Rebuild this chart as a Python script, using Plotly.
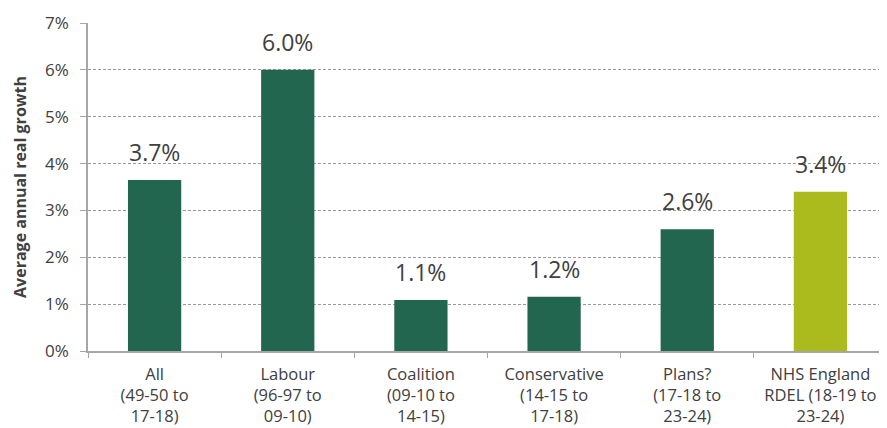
import plotly.graph_objects as go

categories = ["All<br>(49-50 to<br>17-18)", "Labour<br>(96-97 to<br>09-10)", "Coalition<br>(09-10 to<br>14-15)",
              "Conservative<br>(14-15 to<br>17-18)", "Plans?<br>(17-18 to<br>23-24)", "NHS England<br>RDEL (18-19 to<br>23-24)"]
values = [3.65, 6.0, 1.09, 1.16, 2.6, 3.4]
labels = ["3.7%", "6.0%", "1.1%", "1.2%", "2.6%", "3.4%"]
colors = ["#236650", "#236650", "#236650", "#236650", "#236650", "#abbb1e"]
y_ticks = [0, 1, 2, 3, 4, 5, 6, 7]
y_tick_text = ["0%", "1%", "2%", "3%", "4%", "5%", "6%", "7%"]

fig = go.Figure()
fig.add_trace(go.Bar(x=categories, y=values, marker=dict(color=colors, line=dict(width=0)), width=0.4))

for c, v, t in zip(categories, values, labels):
    fig.add_annotation(x=c, y=v, text=t, showarrow=False, yanchor="bottom", yshift=10,
                       font=dict(family="Open Sans", size=23, color="#404040"))

fig.update_layout(
    width=879, height=420,
    margin=dict(l=80, r=0, t=15, b=77),
    plot_bgcolor="white", paper_bgcolor="white",
    showlegend=False,
    font=dict(family="Open Sans", color="#404040"),
    xaxis=dict(automargin=False, showline=True, linecolor="#a6a6a6", linewidth=1.5, ticks="outside",
               tickson="boundaries", ticklen=5, tickcolor="#a6a6a6", ticklabelstandoff=7,
               tickfont=dict(size=16.5, color="#404040"), showgrid=False),
    yaxis=dict(automargin=False, range=[0, 7], tickvals=y_ticks, ticktext=y_tick_text, showline=True,
               linecolor="#a6a6a6", linewidth=1.5, ticks="outside", ticklen=6, tickcolor="#a6a6a6",
               ticklabelstandoff=8,
               showgrid=True, gridcolor="#9a9a9a", griddash="3px,2px", gridwidth=1,
               tickfont=dict(size=17, color="#404040"),
               title=dict(text="<b>Average annual real growth</b>", font=dict(size=16, color="#404040"), standoff=14)),
)
fig.write_html("out.html")
